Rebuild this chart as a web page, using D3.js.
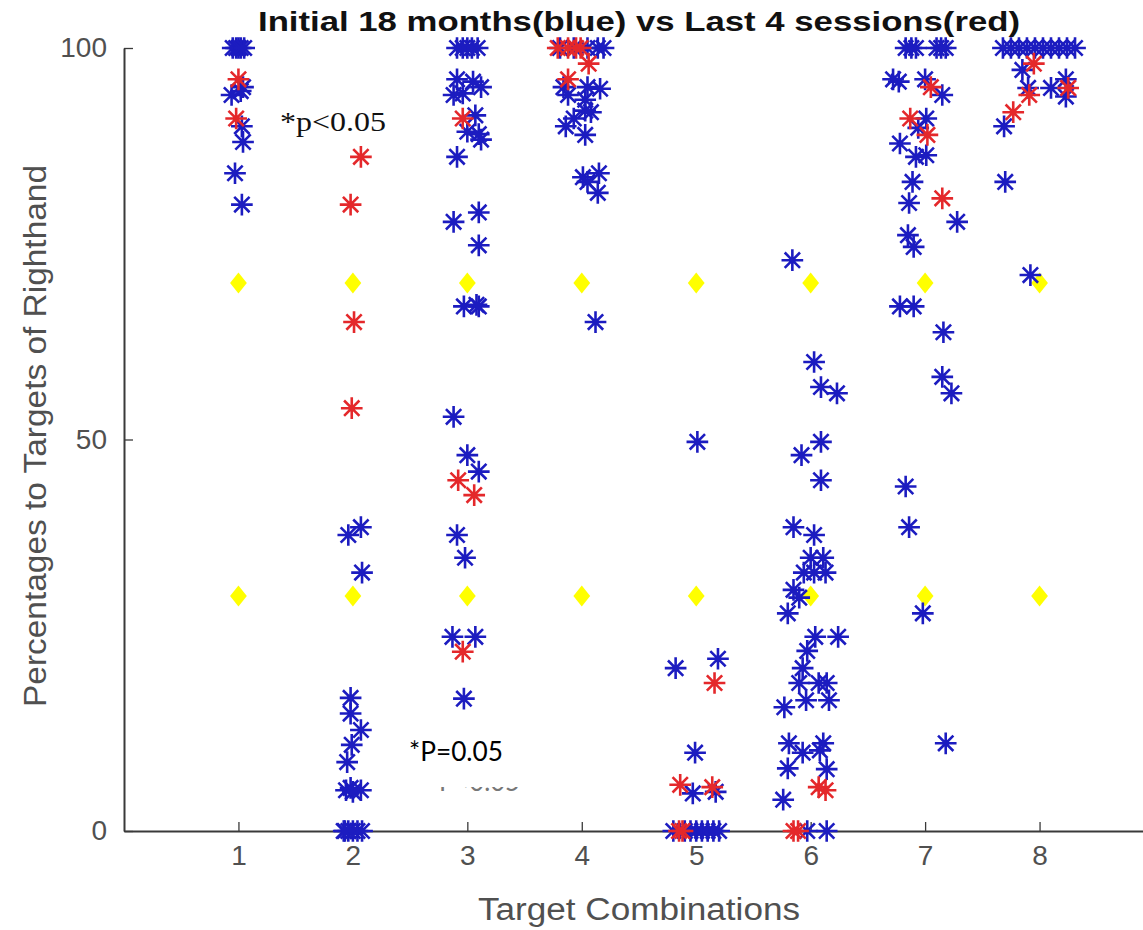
<!DOCTYPE html>
<html>
<head>
<meta charset="utf-8">
<script src="https://cdn.jsdelivr.net/npm/d3@7"></script>
<style>
  body { margin: 0; background: #fff; }
  svg { display: block; font-family: "Liberation Sans", Arial, sans-serif; }
</style>
</head>
<body>
<div id="chart"></div>
<script>
// categories on the x axis and the two chance levels (yellow diamonds)
const categories = [1, 2, 3, 4, 5, 6, 7, 8]
const yTicks = [0, 50, 100]
const chanceLevels = [30, 70]

// initial 18 months - [jittered category, percent]
const blueSeries = [
  [0.95, 100], [0.98, 100], [1.0, 100], [1.02, 100], [1.05, 100],
  [0.94, 94], [1.02, 94.5], [1.04, 95], [1.03, 90], [1.04, 88], [0.97, 84], [1.03, 80],
  [1.96, 37.8], [2.07, 38.8], [2.08, 33], [1.98, 17], [1.98, 15], [2.07, 12.9], [1.99, 11],
  [1.95, 8.8], [1.94, 5.2], [1.98, 5.5], [2.0, 5], [2.07, 5.2],
  [1.92, 0], [1.96, 0], [2.0, 0], [2.04, 0], [2.08, 0], [1.93, 0],
  [2.91, 100], [2.96, 100], [3.0, 100], [3.04, 100], [3.09, 100],
  [2.91, 96], [3.05, 95.7], [3.12, 95], [2.88, 94], [2.96, 94.2], [3.07, 91.4], [3.0, 89.3],
  [3.12, 88.3], [3.1, 89], [2.91, 86.1], [2.88, 77.8], [3.1, 79], [3.1, 74.8],
  [2.97, 67], [3.1, 67], [3.08, 67.2], [2.88, 52.9], [3.0, 48], [3.1, 45.9], [2.91, 37.8],
  [2.98, 34.9], [2.87, 24.8], [3.07, 24.8], [2.97, 16.9],
  [3.81, 100], [3.93, 100], [4.05, 100], [4.14, 100], [4.19, 100],
  [3.84, 95], [4.05, 95], [4.16, 94.8], [3.88, 94], [4.03, 93.4], [4.03, 92], [4.08, 91.8],
  [3.93, 91], [3.86, 90], [4.03, 88.9], [4.01, 83.5], [4.15, 84], [4.05, 82.9], [4.14, 81.5],
  [4.12, 65],
  [5.01, 49.7], [4.82, 20.8], [5.19, 22], [4.99, 10], [4.97, 4.8], [5.17, 5],
  [4.8, 0], [4.9, 0], [4.95, 0], [5.0, 0], [5.05, 0], [5.1, 0], [5.15, 0], [5.2, 0],
  [5.84, 72.9], [6.03, 59.9], [6.09, 56.7], [6.23, 55.9], [6.09, 49.7], [5.92, 48], [6.09, 44.8],
  [5.85, 38.8], [6.03, 37.8], [6.0, 34.9], [6.11, 34.9], [5.94, 33], [6.03, 33], [6.13, 33],
  [5.85, 30.8], [5.9, 29.8], [5.8, 27.8], [6.04, 24.8], [6.24, 24.8], [5.97, 23], [5.93, 20.8],
  [5.9, 18.9], [6.07, 18.9], [6.14, 18.9], [5.96, 16.7], [6.16, 16.7], [5.77, 15.8],
  [5.81, 11.2], [6.11, 11.2], [5.93, 10], [6.08, 10.3], [5.8, 8], [6.14, 7.9], [5.76, 4],
  [5.97, 0], [6.14, 0],
  [6.83, 100], [6.88, 100], [6.92, 100], [7.1, 100], [7.14, 100], [7.18, 100],
  [6.77, 95.7], [6.72, 96], [7.0, 96], [7.15, 94], [7.01, 91], [6.94, 89.8], [6.78, 87.8],
  [6.92, 86.1], [7.01, 86.3], [6.89, 82.9], [6.86, 80.2], [7.28, 77.8], [6.85, 76.1], [6.9, 74.6],
  [6.78, 67], [6.9, 67], [7.16, 63.7], [7.15, 58], [7.23, 55.9], [6.83, 44], [6.86, 38.8],
  [6.98, 27.8], [7.18, 11.2],
  [7.68, 100], [7.75, 100], [7.82, 100], [7.89, 100], [7.96, 100], [8.03, 100], [8.1, 100],
  [8.17, 100], [8.24, 100], [8.31, 100],
  [7.85, 97.2], [7.9, 94.9], [8.1, 94.9], [8.23, 96], [8.23, 93.8], [7.69, 90], [7.7, 82.9],
  [7.92, 71]
]

// last 4 sessions
const redSeries = [
  [1.0, 96], [0.98, 91],
  [2.07, 86.1], [1.98, 80], [2.01, 65], [1.99, 54],
  [2.96, 91], [2.92, 44.8], [3.06, 42.9], [2.96, 22.9],
  [3.79, 100], [3.88, 100], [3.95, 100], [3.99, 100], [4.06, 98], [3.88, 96],
  [5.16, 18.9], [4.86, 5.9], [5.14, 5.6], [4.88, 0], [4.85, 0],
  [6.07, 5.6], [6.13, 5.2], [5.85, 0], [5.89, 0],
  [7.05, 95], [6.87, 91], [7.02, 88.9], [7.15, 80.8],
  [7.95, 98], [7.91, 94], [8.25, 94.9], [7.77, 91.8]
]

const width = 1143
const height = 930
const textGray = '#505050'
const axisColor = '#3a3a3a'

const svg = d3.select('#chart').append('svg')
  .attr('width', width)
  .attr('height', height)

const x = d3.scaleLinear().domain([0, 9]).range([124, 1154])
const y = d3.scaleLinear().domain([0, 100]).range([831, 48])

// matlab style '*' marker: plus and cross together
const asterisk = {
  draw(context, size) {
    const r = Math.sqrt(size) / 2
    const d = r * Math.SQRT1_2
    context.moveTo(-r, 0); context.lineTo(r, 0)
    context.moveTo(0, -r); context.lineTo(0, r)
    context.moveTo(-d, -d); context.lineTo(d, d)
    context.moveTo(-d, d); context.lineTo(d, -d)
  }
}

// wider diamond than d3.symbolDiamond
const fatDiamond = {
  draw(context, size) {
    const h = Math.sqrt(size) / 2
    const w = h * 0.8
    context.moveTo(0, -h)
    context.lineTo(w, 0)
    context.lineTo(0, h)
    context.lineTo(-w, 0)
    context.closePath()
  }
}

// axes
const yAxis = d3.axisLeft(y).tickValues(yTicks).tickSizeInner(-9).tickSizeOuter(0).tickPadding(17)
const xAxis = d3.axisBottom(x).tickValues(categories).tickSizeInner(-9).tickSizeOuter(0).tickPadding(14)

const gy = svg.append('g').attr('transform', `translate(${x(0)},0)`).call(yAxis)
const gx = svg.append('g').attr('transform', `translate(0,${y(0)})`).call(xAxis)

;[gx, gy].forEach(g => {
  g.select('.domain').attr('stroke', axisColor).attr('stroke-width', 2)
  g.selectAll('.tick line').attr('stroke', axisColor).attr('stroke-width', 1.3)
  g.selectAll('.tick text')
    .attr('fill', textGray)
    .style('font-size', '28px')
    .style('font-family', '"Liberation Sans", Arial, sans-serif')
})

// chance levels
const levelPoints = chanceLevels.flatMap(l => categories.map(c => [c, l]))
svg.append('g')
  .selectAll('path')
  .data(levelPoints)
  .enter()
  .append('path')
  .attr('transform', d => `translate(${x(d[0])},${y(d[1])})`)
  .attr('d', d3.symbol(fatDiamond, 440))
  .attr('fill', '#ffff00')

// blue then red on top
const drawStars = (data, color) => {
  svg.append('g')
    .selectAll('path')
    .data(data)
    .enter()
    .append('path')
    .attr('transform', d => `translate(${x(d[0])},${y(d[1])})`)
    .attr('d', d3.symbol(asterisk, 470))
    .attr('fill', 'none')
    .attr('stroke', color)
    .attr('stroke-width', 2.6)
}
drawStars(blueSeries, '#1c1cc0')
drawStars(redSeries, '#e4282b')

// title and axis labels
svg.append('text')
  .attr('x', 639).attr('y', 31)
  .attr('text-anchor', 'middle')
  .attr('textLength', 762)
  .attr('lengthAdjust', 'spacingAndGlyphs')
  .style('font-size', '28px')
  .style('font-weight', 'bold')
  .attr('fill', '#111')
  .text('Initial 18 months(blue) vs Last 4 sessions(red)')

svg.append('text')
  .attr('x', 639).attr('y', 920)
  .attr('text-anchor', 'middle')
  .attr('textLength', 322)
  .attr('lengthAdjust', 'spacingAndGlyphs')
  .style('font-size', '31px')
  .attr('fill', textGray)
  .text('Target Combinations')

svg.append('text')
  .attr('transform', 'translate(46,436) rotate(-90)')
  .attr('text-anchor', 'middle')
  .attr('textLength', 542)
  .attr('lengthAdjust', 'spacingAndGlyphs')
  .style('font-size', '31px')
  .attr('fill', textGray)
  .text('Percentages to Targets of Righthand')

// significance notes
svg.append('text')
  .attr('x', 280).attr('y', 131)
  .attr('textLength', 106)
  .attr('lengthAdjust', 'spacingAndGlyphs')
  .style('font-family', '"Liberation Serif", "Times New Roman", serif')
  .style('font-size', '27px')
  .attr('fill', '#111')
  .text('*p<0.05')

// old label mostly hidden under a white box
svg.append('text')
  .attr('x', 428).attr('y', 791)
  .attr('textLength', 92)
  .attr('lengthAdjust', 'spacingAndGlyphs')
  .style('font-family', 'Lato, "Noto Sans", sans-serif')
  .style('font-size', '27px')
  .attr('fill', '#777')
  .text('*P<0.05')
svg.append('rect')
  .attr('x', 398).attr('y', 728)
  .attr('width', 140).attr('height', 59)
  .attr('fill', '#fff')

svg.append('text')
  .attr('x', 409).attr('y', 761)
  .attr('textLength', 94)
  .attr('lengthAdjust', 'spacingAndGlyphs')
  .style('font-family', 'Lato, "Noto Sans", sans-serif')
  .style('font-size', '27px')
  .attr('fill', '#000')
  .text('*P=0.05')
</script>
</body>
</html>
